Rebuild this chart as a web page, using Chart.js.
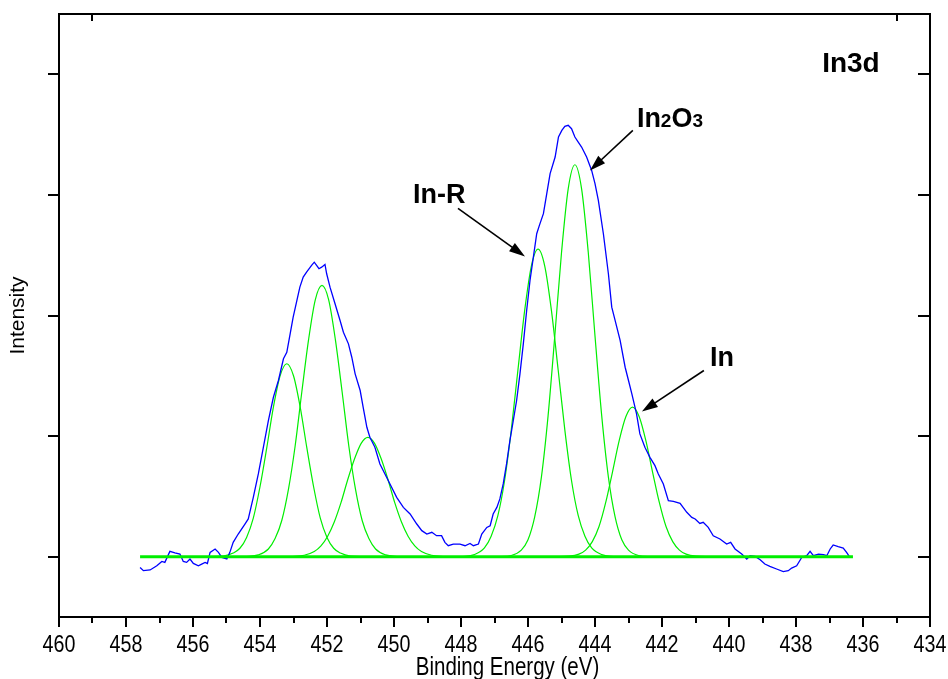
<!DOCTYPE html>
<html>
<head>
<meta charset="utf-8">
<script src="https://cdn.jsdelivr.net/npm/chart.js@4.4.0/dist/chart.umd.min.js"></script>
<style>
  html, body { margin: 0; padding: 0; background: #fff; }
</style>
</head>
<body>
<canvas id="xps" width="948" height="679"></canvas>
<script>
// measured In3d spectrum: binding energy (eV) and intensity (arb. units, baseline = 0)
const measE = [457.58, 457.48, 457.28, 457.08, 456.93, 456.84, 456.69, 456.54, 456.39, 456.29,
  456.19, 456.09, 455.99, 455.84, 455.74, 455.64, 455.57, 455.49, 455.34, 455.24,
  455.14, 454.99, 454.90, 454.80, 454.65, 454.45, 454.35, 454.20, 454.05, 453.90,
  453.75, 453.60, 453.45, 453.30, 453.20, 453.10, 453.01, 452.90, 452.81, 452.71,
  452.61, 452.46, 452.38, 452.31, 452.24, 452.16, 452.06, 452.01, 451.91, 451.76,
  451.61, 451.51, 451.36, 451.26, 451.16, 451.01, 450.92, 450.81, 450.72, 450.57,
  450.42, 450.27, 450.12, 449.92, 449.72, 449.52, 449.32, 449.17, 449.02, 448.87,
  448.73, 448.58, 448.48, 448.38, 448.23, 448.03, 447.88, 447.73, 447.63, 447.48,
  447.38, 447.23, 447.13, 447.04, 446.93, 446.84, 446.74, 446.64, 446.54, 446.44,
  446.34, 446.24, 446.14, 446.04, 445.94, 445.84, 445.74, 445.66, 445.54, 445.44,
  445.34, 445.19, 445.09, 444.99, 444.90, 444.80, 444.70, 444.60, 444.50, 444.40,
  444.25, 444.10, 444.00, 443.90, 443.75, 443.60, 443.50, 443.40, 443.25, 443.10,
  443.00, 442.90, 442.76, 442.66, 442.51, 442.36, 442.21, 442.11, 441.96, 441.81,
  441.66, 441.46, 441.26, 441.11, 441.01, 440.87, 440.77, 440.62, 440.47, 440.27,
  440.07, 439.95, 439.82, 439.62, 439.47, 439.37, 439.22, 439.07, 438.93, 438.78,
  438.58, 438.38, 438.23, 438.13, 437.98, 437.83, 437.68, 437.58, 437.48, 437.33,
  437.18, 437.08, 436.98, 436.89, 436.74, 436.59, 436.49, 436.41];
const measI = [-0.089, -0.116, -0.110, -0.075, -0.039, -0.047, 0.044, 0.031, 0.022, -0.039,
  -0.047, -0.019, -0.056, -0.075, -0.061, -0.047, -0.056, 0.036, 0.064, 0.036,
  -0.006, -0.019, 0.036, 0.119, 0.188, 0.271, 0.313, 0.492, 0.686, 0.907,
  1.129, 1.322, 1.461, 1.641, 1.695, 1.848, 1.986, 2.124, 2.235, 2.318,
  2.359, 2.415, 2.442, 2.415, 2.388, 2.401, 2.423, 2.346, 2.235, 2.097,
  1.959, 1.861, 1.765, 1.654, 1.516, 1.378, 1.239, 1.073, 0.990, 0.907,
  0.769, 0.686, 0.603, 0.492, 0.409, 0.354, 0.271, 0.216, 0.188, 0.202,
  0.174, 0.174, 0.119, 0.091, 0.105, 0.105, 0.091, 0.110, 0.091, 0.105,
  0.188, 0.243, 0.257, 0.354, 0.409, 0.479, 0.603, 0.769, 0.963, 1.129,
  1.295, 1.516, 1.765, 2.041, 2.290, 2.484, 2.678, 2.747, 2.844, 3.010,
  3.176, 3.314, 3.480, 3.535, 3.568, 3.577, 3.549, 3.480, 3.438, 3.397,
  3.314, 3.203, 3.093, 2.954, 2.678, 2.346, 2.069, 1.959, 1.793, 1.571,
  1.461, 1.350, 1.184, 1.018, 0.907, 0.824, 0.755, 0.686, 0.603, 0.465,
  0.459, 0.442, 0.368, 0.326, 0.313, 0.276, 0.285, 0.243, 0.174, 0.147,
  0.105, 0.119, 0.064, 0.022, -0.019, 0.008, 0.002, -0.025, -0.061, -0.080,
  -0.102, -0.124, -0.116, -0.094, -0.075, -0.006, 0.008, 0.044, 0.008, 0.022,
  0.017, 0.008, 0.064, 0.097, 0.083, 0.072, 0.036, 0.002];

// fitted components, 3d3/2 group
const inR32E = [455.5, 455.1, 454.8, 454.6, 454.4, 454.2, 454.0, 453.8, 453.6, 453.4, 453.2,
  453.0, 452.8, 452.6, 452.4, 452.2, 452.0, 451.8, 451.6, 451.3, 450.9];
const inR32I = [0, 0.005, 0.03, 0.07, 0.16, 0.32, 0.58, 0.90, 1.24, 1.50, 1.60,
  1.50, 1.24, 0.90, 0.58, 0.32, 0.16, 0.07, 0.03, 0.005, 0];
const ox32E = [454.45, 454.05, 453.75, 453.55, 453.35, 453.15, 452.95, 452.75, 452.55, 452.35, 452.15,
  451.95, 451.75, 451.55, 451.35, 451.15, 450.95, 450.75, 450.55, 450.25, 449.85];
const ox32I = [0, 0.015, 0.064, 0.15, 0.30, 0.56, 0.92, 1.37, 1.80, 2.13, 2.25,
  2.13, 1.80, 1.37, 0.92, 0.56, 0.30, 0.15, 0.064, 0.015, 0];
const met32E = [453.08, 452.68, 452.38, 452.18, 451.98, 451.78, 451.58, 451.38, 451.18, 450.98, 450.78,
  450.58, 450.38, 450.18, 449.98, 449.78, 449.58, 449.38, 449.18, 448.88, 448.48];
const met32I = [0, 0.012, 0.043, 0.09, 0.17, 0.29, 0.45, 0.64, 0.81, 0.94, 0.99,
  0.94, 0.81, 0.64, 0.45, 0.29, 0.17, 0.09, 0.043, 0.012, 0];

// fitted components, 3d5/2 group (In-R, In2O3, In)
const inR52E = [448.0, 447.6, 447.3, 447.1, 446.9, 446.7, 446.5, 446.3, 446.1, 445.9, 445.7,
  445.5, 445.3, 445.1, 444.9, 444.7, 444.5, 444.3, 444.1, 443.8, 443.4];
const inR52I = [0, 0.017, 0.073, 0.17, 0.34, 0.63, 1.05, 1.55, 2.04, 2.41, 2.55,
  2.41, 2.04, 1.55, 1.05, 0.63, 0.34, 0.17, 0.073, 0.017, 0];
const ox52E = [446.9, 446.5, 446.2, 446.0, 445.8, 445.6, 445.4, 445.2, 445.0, 444.8, 444.6,
  444.4, 444.2, 444.0, 443.8, 443.6, 443.4, 443.2, 443.0, 442.7, 442.3];
const ox52I = [0, 0.01, 0.055, 0.14, 0.33, 0.66, 1.17, 1.83, 2.52, 3.05, 3.25,
  3.05, 2.52, 1.83, 1.17, 0.66, 0.33, 0.14, 0.055, 0.01, 0];
const met52E = [445.18, 444.78, 444.48, 444.28, 444.08, 443.88, 443.68, 443.48, 443.28, 443.08, 442.88,
  442.68, 442.48, 442.28, 442.08, 441.88, 441.68, 441.48, 441.28, 440.98, 440.58];
const met52I = [0, 0.004, 0.021, 0.055, 0.125, 0.25, 0.45, 0.70, 0.96, 1.16, 1.24,
  1.16, 0.96, 0.70, 0.45, 0.25, 0.125, 0.055, 0.021, 0.004, 0];

const baseE = [457.58, 436.30];
const baseI = [0, 0];

const energyTicks = { min: 434, max: 460, step: 2 };
const intensityTicks = [0, 1, 2, 3, 4];

const pts = (xs, ys) => xs.map((x, i) => ({ x, y: ys[i] }));

const GREEN = '#00ee00';
const BLUE = '#0000ff';
const SANS = "'Liberation Sans', Arial, sans-serif";
const NARROW_X = 0.82; // squeeze to mimic Arial Narrow on the bottom axis

// callout labels and arrows, given in data coordinates
const callouts = [
  { parts: [['In3d', 28]], at: [437.22, 4.02] },
  { parts: [['In', 27], ['2', 19], ['O', 27], ['3', 19]], at: [442.75, 3.56], from: [442.87, 3.535], to: [444.15, 3.203] },
  { parts: [['In-R', 27]], at: [449.43, 2.93], from: [448.09, 2.888], to: [446.09, 2.49] },
  { parts: [['In', 27]], at: [440.57, 1.585], from: [440.75, 1.544], to: [442.60, 1.203] }
];

const drawArrow = (ctx, x1, y1, x2, y2) => {
  const a = Math.atan2(y2 - y1, x2 - x1), L = 16, W = 5;
  const c = Math.cos(a), s = Math.sin(a);
  ctx.beginPath();
  ctx.moveTo(x1, y1);
  ctx.lineTo(x2 - L * 0.7 * c, y2 - L * 0.7 * s);
  ctx.stroke();
  ctx.beginPath();
  ctx.moveTo(x2, y2);
  ctx.lineTo(x2 - L * c + W * s, y2 - L * s - W * c);
  ctx.lineTo(x2 - L * c - W * s, y2 - L * s + W * c);
  ctx.closePath();
  ctx.fill();
};

const narrowText = (ctx, text, px, py, size) => {
  ctx.save();
  ctx.translate(px, py);
  ctx.scale(NARROW_X, 1);
  ctx.font = size + 'px ' + SANS;
  ctx.textAlign = 'center';
  ctx.textBaseline = 'alphabetic';
  ctx.fillText(text, 0, 0);
  ctx.restore();
};

const framePlugin = {
  id: 'frame',
  afterDraw(chart) {
    const { ctx, chartArea: a, scales: { x, y } } = chart;
    ctx.save();
    ctx.strokeStyle = '#000';
    ctx.fillStyle = '#000';
    ctx.lineWidth = 2;
    ctx.beginPath();
    ctx.moveTo(a.left, a.top);
    ctx.lineTo(a.right, a.top);
    ctx.lineTo(a.right, a.bottom);
    // minor ticks on the bottom axis
    for (let e = energyTicks.min + 1; e < energyTicks.max; e += energyTicks.step) {
      const px = Math.round(x.getPixelForValue(e));
      ctx.moveTo(px, a.bottom);
      ctx.lineTo(px, a.bottom + 6);
    }
    // top axis ticks
    [459, 435].forEach(e => {
      const px = Math.round(x.getPixelForValue(e));
      ctx.moveTo(px, a.top);
      ctx.lineTo(px, a.top + 7);
    });
    // right axis ticks, inward
    intensityTicks.forEach(v => {
      const py = Math.round(y.getPixelForValue(v));
      ctx.moveTo(a.right, py);
      ctx.lineTo(a.right - 12, py);
    });
    ctx.stroke();

    // bottom tick labels and title
    x.ticks.forEach(t => narrowText(ctx, String(t.value), x.getPixelForValue(t.value), a.bottom + 35, 24));
    narrowText(ctx, 'Binding Energy (eV)', (a.left + a.right) / 2 + 13, 675, 25);

    // callouts
    ctx.textAlign = 'left';
    ctx.textBaseline = 'alphabetic';
    ctx.lineWidth = 1.6;
    callouts.forEach(c => {
      let px = x.getPixelForValue(c.at[0]);
      const py = y.getPixelForValue(c.at[1]);
      c.parts.forEach(([t, size]) => {
        ctx.font = 'bold ' + size + 'px ' + SANS;
        ctx.fillText(t, px, py);
        px += ctx.measureText(t).width;
      });
      if (c.from) {
        drawArrow(ctx, x.getPixelForValue(c.from[0]), y.getPixelForValue(c.from[1]),
          x.getPixelForValue(c.to[0]), y.getPixelForValue(c.to[1]));
      }
    });
    ctx.restore();
  }
};

const line = (data, color, width, smooth) => ({
  data, borderColor: color, borderWidth: width, showLine: true, pointRadius: 0,
  fill: false, tension: 0, cubicInterpolationMode: smooth ? 'monotone' : 'default'
});

new Chart(document.getElementById('xps'), {
  type: 'scatter',
  data: {
    datasets: [
      line(pts(baseE, baseI), GREEN, 3, false),
      line(pts(measE, measI), BLUE, 1.3, false),
      line(pts(inR32E, inR32I), GREEN, 1.2, true),
      line(pts(ox32E, ox32I), GREEN, 1.2, true),
      line(pts(met32E, met32I), GREEN, 1.2, true),
      line(pts(inR52E, inR52I), GREEN, 1.2, true),
      line(pts(ox52E, ox52I), GREEN, 1.2, true),
      line(pts(met52E, met52I), GREEN, 1.2, true)
    ]
  },
  options: {
    responsive: false,
    animation: false,
    layout: { padding: { top: 14, right: 18, left: 0, bottom: 0 } },
    plugins: { legend: { display: false }, tooltip: { enabled: false } },
    scales: {
      x: {
        type: 'linear',
        reverse: true,
        min: energyTicks.min,
        max: energyTicks.max,
        afterFit: s => { s.height = 62; },
        ticks: { stepSize: energyTicks.step, display: false },
        grid: { drawOnChartArea: false, tickLength: 10, lineWidth: 2, color: '#000' },
        border: { display: true, color: '#000', width: 2 }
      },
      y: {
        type: 'linear',
        min: -0.5,
        max: 4.5,
        afterBuildTicks: s => { s.ticks = intensityTicks.map(v => ({ value: v })); },
        afterFit: s => { s.width = 59; },
        ticks: { display: false },
        grid: { drawOnChartArea: false, tickLength: 11, lineWidth: 2, color: '#000' },
        border: { display: true, color: '#000', width: 2 },
        title: { display: true, text: 'Intensity', color: '#000', font: { family: SANS, size: 21 }, padding: { top: 6, bottom: 0 } }
      }
    }
  },
  plugins: [framePlugin]
});
</script>
</body>
</html>
